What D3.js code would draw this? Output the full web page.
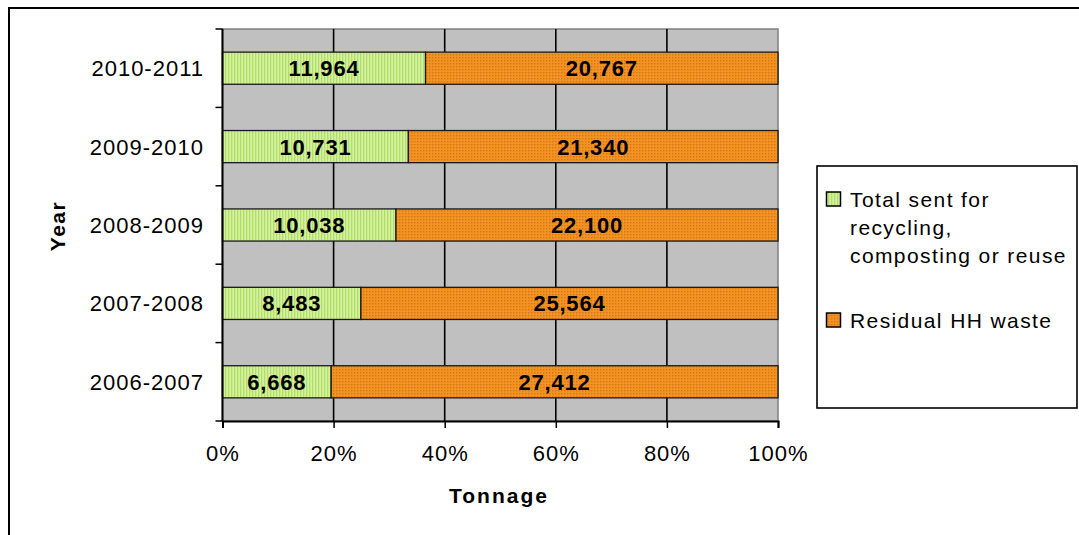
<!DOCTYPE html>
<html>
<head>
<meta charset="utf-8">
<script src="https://cdn.jsdelivr.net/npm/d3@7"></script>
<style>
  html, body { margin: 0; padding: 0; background: #fff; }
  svg { display: block; font-family: "Liberation Sans", Arial, sans-serif; }
</style>
</head>
<body>
<svg id="chart" width="1079" height="535"></svg>
<script>
// Household waste tonnage by year
const years = ["2006-2007", "2007-2008", "2008-2009", "2009-2010", "2010-2011"];
const recycled = [6668, 8483, 10038, 10731, 11964];
const residual = [27412, 25564, 22100, 21340, 20767];
const seriesNames = ["Total sent for recycling, composting or reuse", "Residual HH waste"];
const xTicks = [0, 0.2, 0.4, 0.6, 0.8, 1];

const FONT = "Liberation Sans, Arial, sans-serif";
const svg = d3.select("#chart");
const W = 1079, H = 535;
const plot = { left: 222.5, right: 778, top: 29, bottom: 421 };

// Fill patterns: striped green, dotted orange
const defs = svg.append("defs");
const pg = defs.append("pattern").attr("id", "stripes").attr("patternUnits", "userSpaceOnUse")
  .attr("width", 3).attr("height", 3);
pg.append("rect").attr("width", 3).attr("height", 3).attr("fill", "#d3f29c");
pg.append("rect").attr("width", 1.3).attr("height", 3).attr("fill", "#b5dc6e");

const po = defs.append("pattern").attr("id", "dots").attr("patternUnits", "userSpaceOnUse")
  .attr("width", 3).attr("height", 3);
po.append("rect").attr("width", 3).attr("height", 3).attr("fill", "#f29424");
po.append("rect").attr("width", 1.4).attr("height", 1.4).attr("fill", "#dc7410");

// Outer chart frame (runs past the right and bottom edges)
svg.append("rect").attr("x", 9).attr("y", 8).attr("width", W + 20).attr("height", H + 20)
  .attr("fill", "none").attr("stroke", "#000").attr("stroke-width", 2);

const x = d3.scaleLinear().domain([0, 1]).range([plot.left, plot.right]);
const y = d3.scaleBand().domain(years.slice().reverse()).range([plot.top, plot.bottom])
  .paddingInner(0.59).paddingOuter(0.295);

// Plot background
svg.append("rect").attr("x", plot.left).attr("y", plot.top)
  .attr("width", plot.right - plot.left).attr("height", plot.bottom - plot.top)
  .attr("fill", "#c0c0c0").attr("stroke", "#7f7f7f").attr("stroke-width", 1.5);

// Vertical gridlines
svg.append("g").selectAll("line").data(xTicks.slice(1, -1)).join("line")
  .attr("x1", d => x(d)).attr("x2", d => x(d))
  .attr("y1", plot.top).attr("y2", plot.bottom)
  .attr("stroke", "#000").attr("stroke-width", 1.6);

// Stacked percentage bars
const rows = years.map((yr, i) => {
  const total = recycled[i] + residual[i];
  return { year: yr, parts: [
    { key: 0, v: recycled[i], x0: 0, x1: recycled[i] / total, fill: "url(#stripes)" },
    { key: 1, v: residual[i], x0: recycled[i] / total, x1: 1, fill: "url(#dots)" }
  ]};
});

const gBars = svg.append("g");
rows.forEach(r => {
  r.parts.forEach(p => {
    gBars.append("rect")
      .attr("x", x(p.x0)).attr("y", y(r.year))
      .attr("width", x(p.x1) - x(p.x0)).attr("height", y.bandwidth())
      .attr("fill", p.fill).attr("stroke", "#1a1a1a").attr("stroke-width", 1.3);
    gBars.append("text")
      .attr("x", (x(p.x0) + x(p.x1)) / 2).attr("y", y(r.year) + y.bandwidth() / 2)
      .attr("dy", "0.36em").attr("text-anchor", "middle")
      .attr("font-size", 22).attr("font-weight", "bold").attr("letter-spacing", 0.8)
      .attr("fill", "#000")
      .text(d3.format(",")(p.v));
  });
});

// Left axis with ticks at category boundaries
svg.append("line").attr("x1", plot.left).attr("x2", plot.left)
  .attr("y1", plot.top).attr("y2", plot.bottom).attr("stroke", "#000").attr("stroke-width", 2);
const step = (plot.bottom - plot.top) / years.length;
svg.append("g").selectAll("line").data(d3.range(years.length + 1)).join("line")
  .attr("x1", plot.left - 7).attr("x2", plot.left)
  .attr("y1", i => plot.top + i * step).attr("y2", i => plot.top + i * step)
  .attr("stroke", "#000").attr("stroke-width", 1.5);
svg.append("g").selectAll("text").data(years).join("text")
  .attr("x", 204).attr("y", d => y(d) + y.bandwidth() / 2)
  .attr("dy", "0.36em").attr("text-anchor", "end")
  .attr("font-size", 22).attr("letter-spacing", 1.0).attr("fill", "#000")
  .text(d => d);

// Bottom axis
const xAxis = d3.axisBottom(x).tickValues(xTicks).tickFormat(d3.format(".0%"))
  .tickSize(7).tickPadding(17);
const gx = svg.append("g").attr("transform", `translate(0,${plot.bottom})`).call(xAxis);
gx.select(".domain").attr("stroke", "#000").attr("stroke-width", 2);
gx.selectAll(".tick line").attr("stroke", "#000").attr("stroke-width", 1.5);
gx.selectAll(".tick text").attr("font-size", 22).attr("letter-spacing", 1.0)
  .attr("fill", "#000").attr("font-family", FONT);

// Axis titles
svg.append("text").attr("x", 499).attr("y", 503).attr("text-anchor", "middle")
  .attr("font-size", 21).attr("font-weight", "bold").attr("letter-spacing", 2)
  .text("Tonnage");
svg.append("text").attr("transform", "translate(65,226) rotate(-90)")
  .attr("text-anchor", "middle").attr("font-size", 21).attr("font-weight", "bold")
  .attr("letter-spacing", 1.5).text("Year");

// Legend
const lg = svg.append("g");
lg.append("rect").attr("x", 817).attr("y", 166).attr("width", 260).attr("height", 242)
  .attr("fill", "#fff").attr("stroke", "#000").attr("stroke-width", 1.6);
const legendItems = [
  { fill: "url(#stripes)", lines: ["Total sent for", "recycling,", "composting or reuse"], top: 192 },
  { fill: "url(#dots)", lines: ["Residual HH waste"], top: 313 }
];
legendItems.forEach((it, i) => {
  lg.append("rect").attr("x", 826.5).attr("y", it.top).attr("width", 14).attr("height", 14)
    .attr("fill", it.fill).attr("stroke", "#000").attr("stroke-width", 1.5);
  const t = lg.append("text").attr("font-size", 21).attr("letter-spacing", 1.4).attr("fill", "#000")
    .attr("data-series", seriesNames[i]);
  it.lines.forEach((ln, j) => {
    t.append("tspan").attr("x", 850).attr("y", it.top + 14.5 + j * 28).text(ln);
  });
});
</script>
</body>
</html>
